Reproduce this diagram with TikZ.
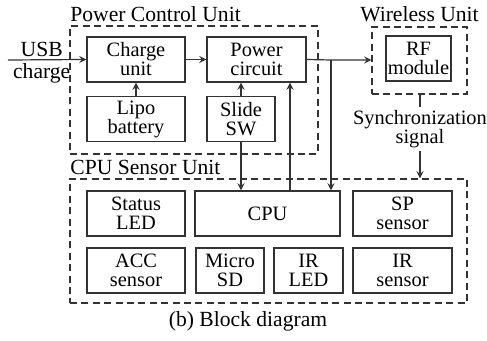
\documentclass[tikz,border=0pt]{standalone}
\usepackage{fontspec}
\setmainfont{LiberationSerif}[Extension=.ttf,UprightFont=*-Regular,BoldFont=*-Bold,ItalicFont=*-Italic]

\begin{document}
\begin{tikzpicture}[x=0.5pt,y=-0.5pt,>=stealth,
  blk/.style={draw=black!80,line width=0.6pt,align=center,inner sep=0pt,
    minimum height=22.5pt,font=\rmfamily\fontsize{10.2}{9.5}\selectfont},
  grp/.style={draw=black!80,line width=0.6pt,dash pattern=on 3.5pt off 2.2pt,inner sep=0pt},
  lbl/.style={inner sep=0pt,font=\rmfamily\fontsize{10.8}{12}\selectfont},
  wire/.style={draw=black!80,line width=0.6pt}]
  \useasboundingbox (0,0) rectangle (487,341);

  % unit frames
  \node[grp,minimum width=124pt,minimum height=64pt] (pcu) at (194,90) {};
  \node[grp,minimum width=47.5pt,minimum height=33.5pt] (wl) at (419.5,60.5) {};
  \node[grp,minimum width=198.5pt,minimum height=62pt] (csu) at (268.5,241) {};
  \node[lbl,anchor=base west] (pcut) at (70,22) {Power Control Unit};
  \node[lbl,anchor=base] (wlt) at (419.5,22) {Wireless Unit};
  \node[lbl,anchor=base west] (csut) at (70,175) {CPU Sensor Unit};

  % power control unit
  \node[blk,minimum width=49pt] (chg) at (136,59.5) {Charge\\unit};
  \node[blk,minimum width=49.5pt] (pwr) at (256.5,59.5) {Power\\circuit};
  \node[blk,minimum width=49pt] (lipo) at (136,119) {Lipo\\battery};
  \node[blk,minimum width=34pt] (sw) at (241,119) {Slide\\SW};

  % wireless unit
  \node[blk,minimum width=32.5pt] (rf) at (418.5,58.5) {RF\\module};

  % cpu sensor unit
  \node[blk,minimum width=49pt] (led) at (136,213.5) {Status\\LED};
  \node[blk,minimum width=72.5pt] (cpu) at (267.5,213.5) {CPU};
  \node[blk,minimum width=49.5pt] (sp) at (402.5,213.5) {SP\\sensor};
  \node[blk,minimum width=49pt] (acc) at (136,270.5) {ACC\\sensor};
  \node[blk,minimum width=34pt] (sd) at (230,270.5) {Micro\\SD};
  \node[blk,minimum width=34.5pt] (irled) at (308.5,270.5) {IR\\LED};
  \node[blk,minimum width=49.5pt] (irs) at (402.5,270.5) {IR\\sensor};

  \node[lbl,align=center,font=\rmfamily\fontsize{10.2}{9.5}\selectfont,inner sep=1.5pt] (sync) at (420,129)
    {Synchronization\\signal};
  \node[lbl,anchor=base] (cap) at (248,327) {(b) Block diagram};

  % connectors
  \coordinate (usb) at (8,60);
  \coordinate (split) at (331,60);
  \coordinate (fb) at (290,0);
  \draw[wire,->] (usb) -- node[pos=0.43,above=1pt,lbl]{USB}
    node[pos=0.43,below=1.5pt,lbl]{charge} (chg.west);
  \draw[wire,->] (chg) -- (pwr);
  \draw[wire,->] (lipo) -- (chg);
  \draw[wire,->] (sw) -- (sw |- pwr.south);
  \draw[wire,->] (sw.south) -- (sw.south |- cpu.north);
  \draw[wire,->] (cpu.north -| fb) -- (pwr.south -| fb);
  \draw[wire,->] (pwr.east) -- (split) -- (wl.west |- split);
  \draw[wire,->] (split) -- (split |- cpu.north);
  \draw[wire] (wl.south -| sync) -- (sync.north);
  \draw[wire,->] (sync.south) -- (sync.south |- csu.north);
\end{tikzpicture}
\end{document}
